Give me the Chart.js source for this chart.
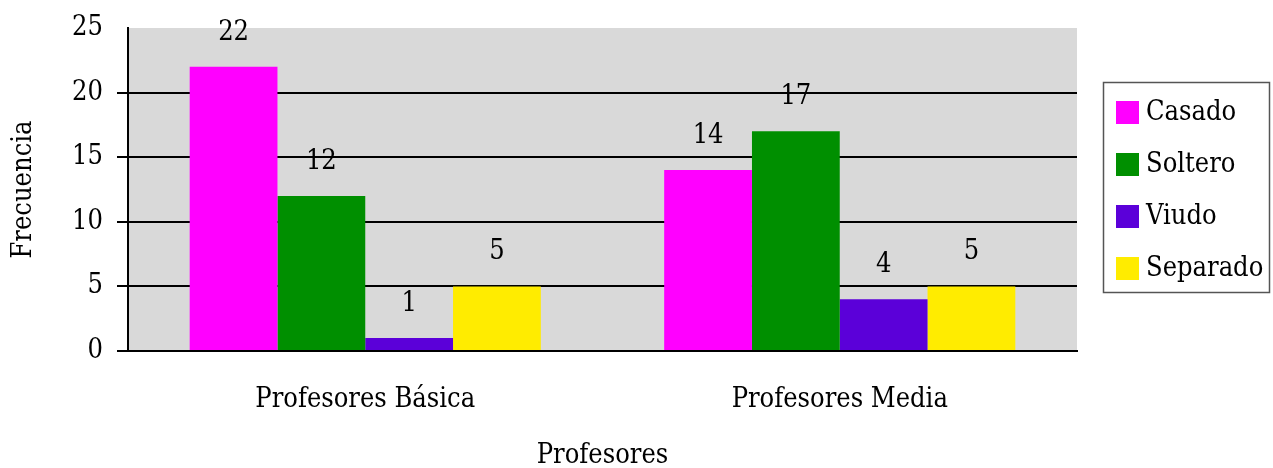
<!DOCTYPE html>
<html>
<head>
<meta charset="utf-8">
<script src="https://cdn.jsdelivr.net/npm/chart.js@4/dist/chart.umd.min.js"></script>
<style>
  html, body { margin: 0; padding: 0; background: #ffffff; }
  #wrap { width: 1273px; height: 468px; }
</style>
</head>
<body>
<div id="wrap"><canvas id="c" width="1273" height="468"></canvas></div>
<script>
const categories = ['Profesores Básica', 'Profesores Media'];
const seriesNames = ['Casado', 'Soltero', 'Viudo', 'Separado'];
const casado = [22, 14];
const soltero = [12, 17];
const viudo = [1, 4];
const separado = [5, 5];
const yTicks = [0, 5, 10, 15, 20, 25];
const colors = ['#ff00ff', '#008f00', '#5b00d9', '#ffec00'];

const FONT = "'DejaVu Serif Condensed', 'Liberation Serif', serif";
const FS = 27;

const bgPlugin = {
  id: 'plotBg',
  beforeDraw(chart) {
    const a = chart.chartArea, ctx = chart.ctx;
    ctx.save();
    ctx.fillStyle = '#d9d9d9';
    ctx.fillRect(a.left, a.top, a.right - a.left, a.bottom - a.top);
    ctx.restore();
  }
};

const labelPlugin = {
  id: 'valLabels',
  afterDatasetsDraw(chart) {
    const ctx = chart.ctx;
    ctx.save();
    ctx.font = FS + 'px ' + FONT;
    ctx.fillStyle = '#000';
    ctx.textAlign = 'center';
    ctx.textBaseline = 'middle';
    chart.data.datasets.forEach((ds, i) => {
      chart.getDatasetMeta(i).data.forEach((bar, j) => {
        ctx.fillText(String(ds.data[j]), bar.x, bar.y - 34);
      });
    });
    ctx.restore();
  }
};

const legendPlugin = {
  id: 'boxLegend',
  afterDraw(chart) {
    const ctx = chart.ctx;
    ctx.save();
    ctx.strokeStyle = '#555';
    ctx.lineWidth = 1.5;
    ctx.strokeRect(1103.5, 82.5, 166, 210);
    ctx.font = FS + 'px ' + FONT;
    ctx.textAlign = 'left';
    ctx.textBaseline = 'middle';
    chart.data.datasets.forEach((ds, i) => {
      const cy = 112 + i * 52;
      ctx.fillStyle = ds.backgroundColor;
      ctx.fillRect(1116, cy - 11, 23, 23);
      ctx.fillStyle = '#000';
      ctx.fillText(ds.label, 1146, cy + 1);
    });
    ctx.restore();
  }
};

const values = [casado, soltero, viudo, separado];

new Chart(document.getElementById('c'), {
  type: 'bar',
  data: {
    labels: categories,
    datasets: seriesNames.map((n, i) => ({
      label: n,
      data: values[i],
      backgroundColor: colors[i],
      borderWidth: 0,
      categoryPercentage: 0.74,
      barPercentage: 1.0
    }))
  },
  options: {
    responsive: false,
    animation: false,
    devicePixelRatio: 1,
    layout: { padding: { top: 28, right: 196, bottom: 0, left: 0 } },
    plugins: { legend: { display: false }, tooltip: { enabled: false } },
    scales: {
      x: {
        grid: { display: false },
        border: { display: true, color: '#000', width: 2 },
        ticks: { color: '#000', font: { family: FONT, size: FS }, padding: 25, maxRotation: 0 },
        title: { display: true, text: 'Profesores', color: '#000', font: { family: FONT, size: FS }, padding: { top: 0, bottom: -4 } },
        afterFit(s) { s.height = 117; }
      },
      y: {
        min: 0, max: 25,
        afterBuildTicks(s) { s.ticks = yTicks.map(v => ({ value: v })); },
        grid: {
          color: (c) => (c.tick && c.tick.value === 25) ? 'rgba(0,0,0,0)' : '#000',
          lineWidth: 2,
          tickLength: 11,
          drawTicks: true
        },
        border: { display: true, color: '#000', width: 2 },
        ticks: { color: '#000', font: { family: FONT, size: FS }, padding: 14 },
        title: { display: true, text: 'Frecuencia', color: '#000', font: { family: FONT, size: FS }, padding: { top: 8, bottom: 0 } },
        afterFit(s) { s.width = 128; s.paddingTop = 0; s.paddingBottom = 0; }
      }
    }
  },
  plugins: [bgPlugin, labelPlugin, legendPlugin]
});
</script>
</body>
</html>
